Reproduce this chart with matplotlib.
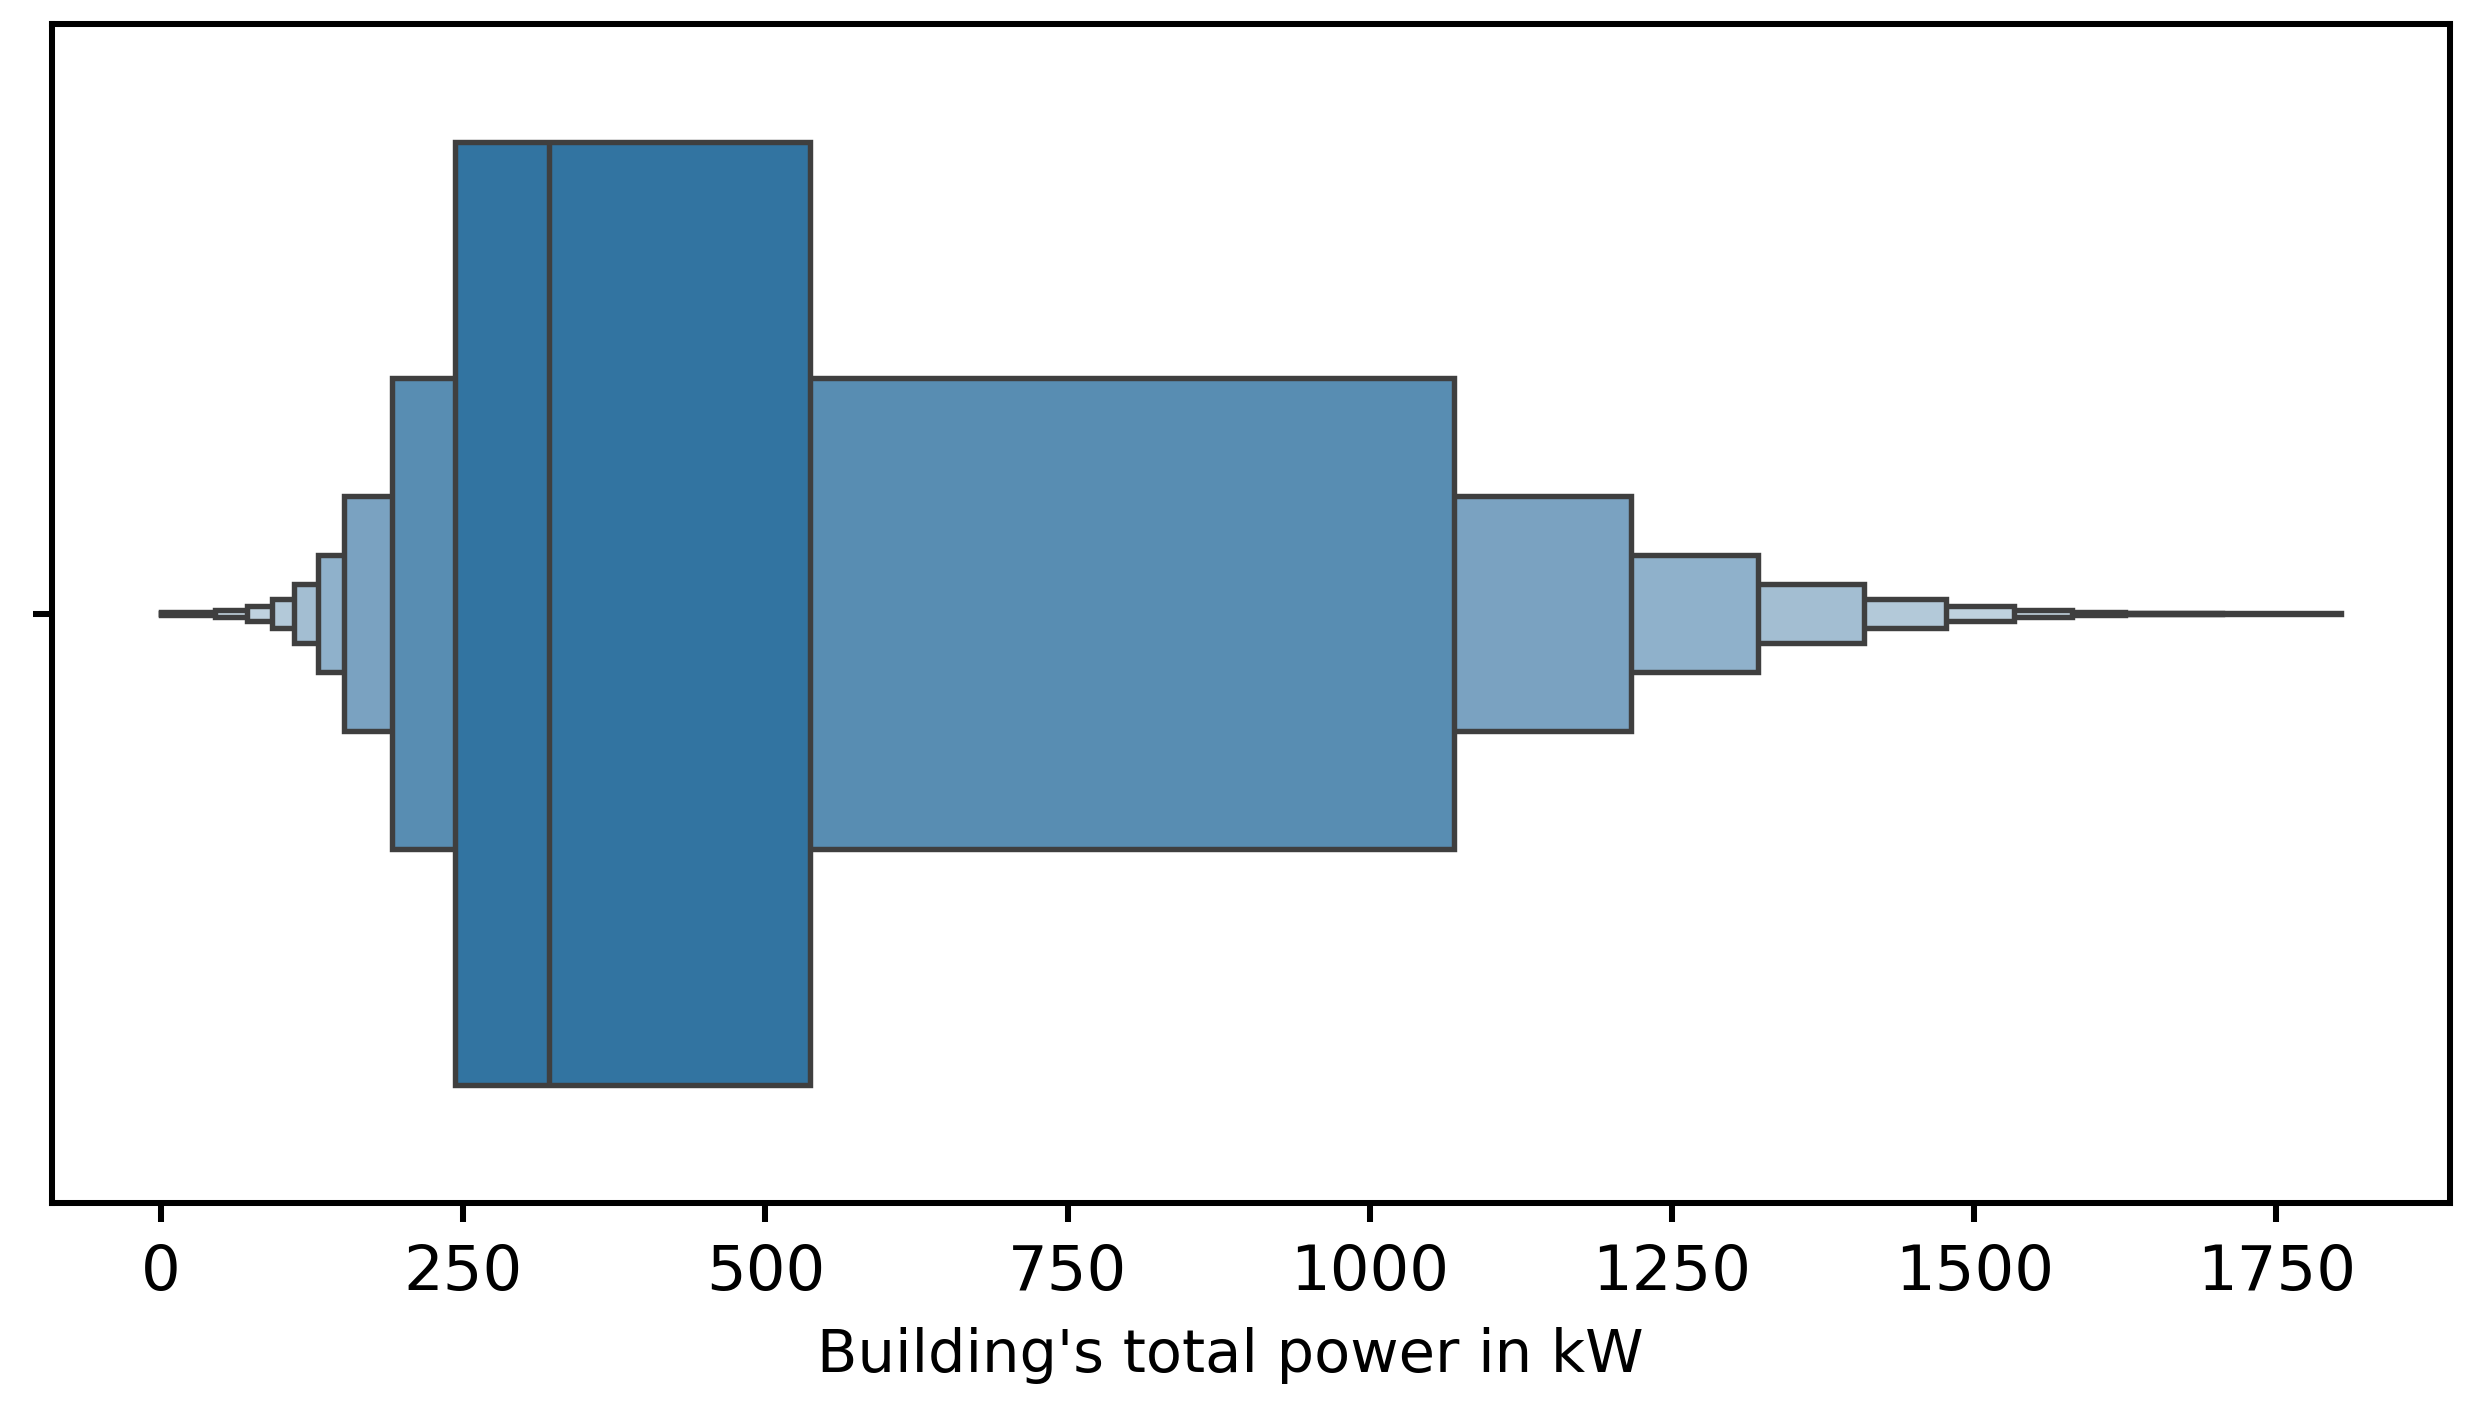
import matplotlib
matplotlib.use("Agg")
import matplotlib.pyplot as plt

# -----------------------------
# Letter-value levels (kW)
# -----------------------------
median = 321
lower_ends = [243, 191, 151, 130, 110, 92, 71, 45, 0, 0, 0]
upper_ends = [537, 1070, 1216, 1321, 1409, 1477, 1533, 1581, 1625, 1705, 1803]
level_colors = ["#3274a1", "#588db2", "#7aa2c1", "#8fb1cb", "#a3bed2",
                "#b3c9d9", "#bfd2df", "#c5d7e3", "#c9dae5", "#ccdce6", "#cfdee8"]
xlabel = "Building's total power in kW"

# -----------------------------
# Figure
# -----------------------------
DPI = 300
fig = plt.figure(figsize=(2474 / DPI, 1408 / DPI), dpi=DPI)
ax = fig.add_axes([52 / 2474, 1 - 1203 / 1408, (2449.5 - 52) / 2474, (1203 - 24) / 1408])

edge = "#3f3f3f"
lw = 1.3

# widest levels first so the inner boxes sit on top
n = len(lower_ends)
for k in reversed(range(n)):
    h = 0.8 / 2 ** k
    ax.barh(0, upper_ends[k] - lower_ends[k], left=lower_ends[k], height=h,
            color=level_colors[k], edgecolor=edge, linewidth=lw, zorder=2 + (n - k) * 0.01)

ax.plot([median, median], [-0.4, 0.4], color=edge, linewidth=lw, zorder=5, solid_capstyle="butt")

# 5% padding on each side of the data range
lo, hi = min(lower_ends), max(upper_ends)
pad = 0.05 * (hi - lo)
ax.set_xlim(lo - pad, hi + pad)
ax.set_ylim(0.5, -0.5)
ax.set_yticks([0])
ax.set_yticklabels([""])
ax.set_xticks([0, 250, 500, 750, 1000, 1250, 1500, 1750])

for s in ax.spines.values():
    s.set_linewidth(1.45)
ax.tick_params(axis="both", length=4.5, width=1.45, labelsize=15, pad=5)
ax.set_xlabel(xlabel, fontsize=14.2, labelpad=7.5)
ax.xaxis.set_label_coords(0.4915, -0.105)

fig.savefig("out.png", dpi=DPI)
